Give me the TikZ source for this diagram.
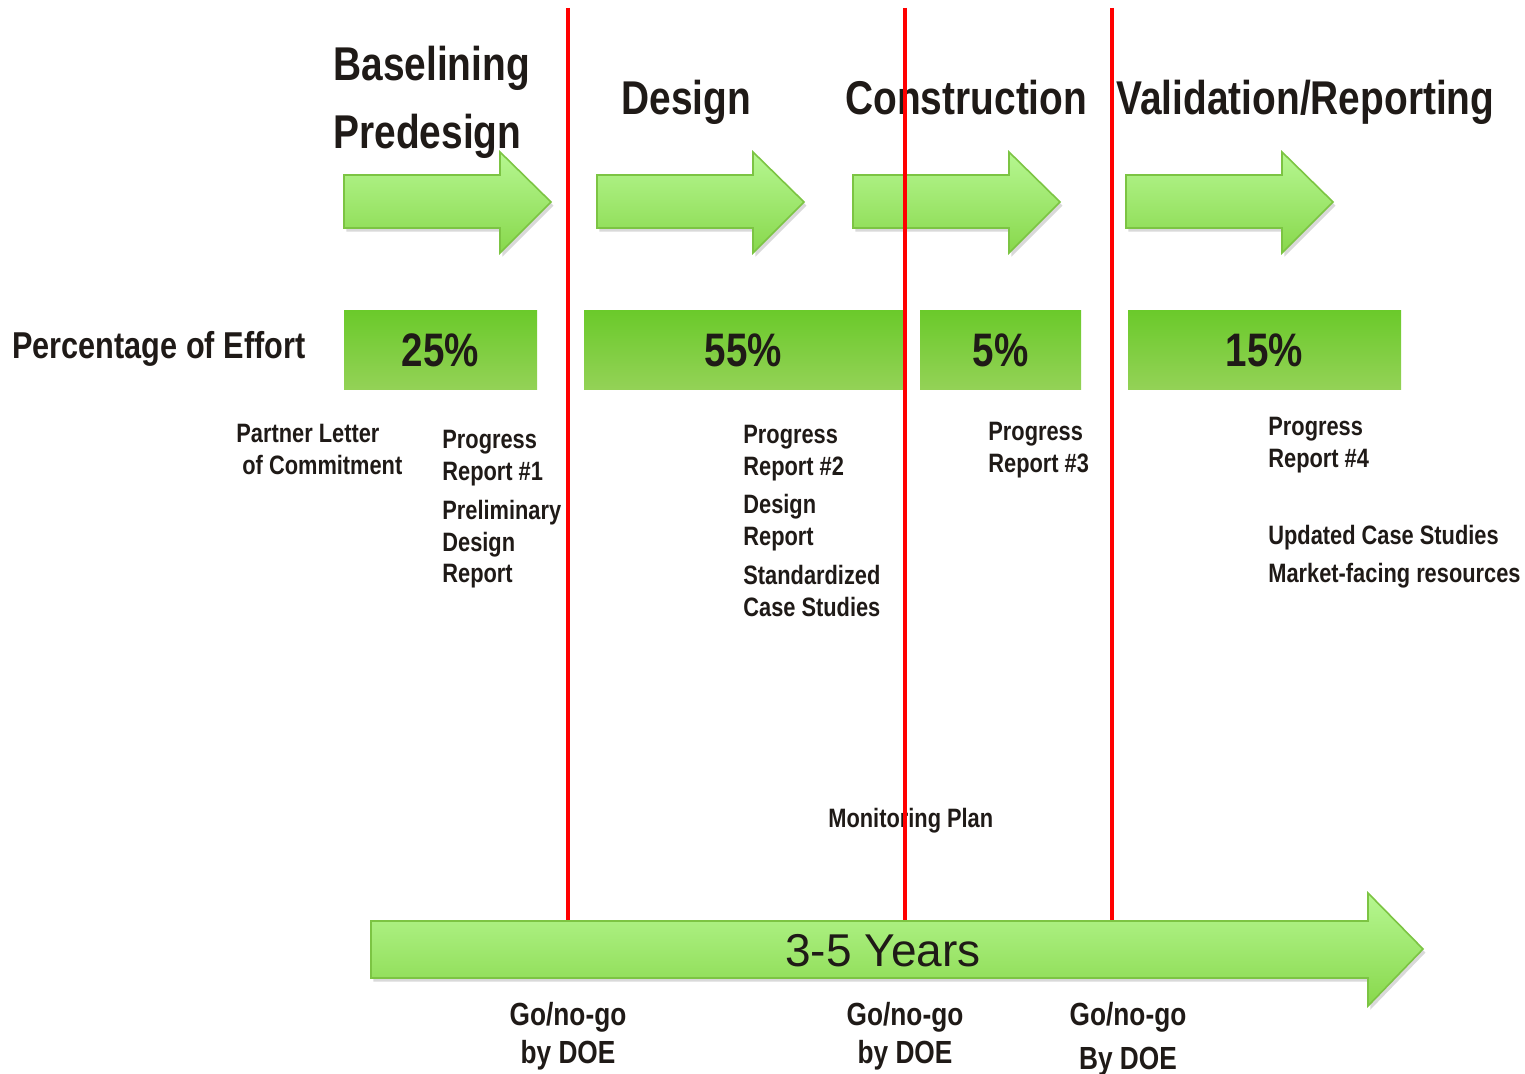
\documentclass[tikz,border=0pt]{standalone}
\usepackage{fontspec}
\setmainfont{Liberation Sans}
\newfontfamily\narrowfont{Liberation Sans}[FakeStretch=0.82]
\usetikzlibrary{shadows}

\definecolor{ink}{HTML}{1F1A17}
\definecolor{arrowtop}{HTML}{B6F791}
\definecolor{arrowbot}{HTML}{88D84C}
\definecolor{arrowrim}{HTML}{7CC443}
\definecolor{pcttop}{HTML}{6BCA2B}
\definecolor{pctbot}{HTML}{94D257}

\begin{document}
\begin{tikzpicture}[x=0.5pt,y=-0.5pt,
  every node/.style={inner sep=0pt,text=ink},
  greenarrow/.style={top color=arrowtop,bottom color=arrowbot,draw=arrowrim,line width=0.8pt,
    drop shadow={opacity=0.3,shadow xshift=1.2pt,shadow yshift=-1.8pt}},
  pctbox/.style={top color=pcttop,bottom color=pctbot,minimum height=39.5pt,
    font=\narrowfont\bfseries\fontsize{23.5}{28}\selectfont},
  phase/.style={anchor=north west,align=left,
    font=\narrowfont\bfseries\fontsize{23.7}{34}\selectfont},
  deliv/.style={anchor=north west,align=left,
    font=\narrowfont\bfseries\fontsize{13.3}{15.75}\selectfont},
  gate/.style={align=center,font=\narrowfont\bfseries\fontsize{16}{19}\selectfont},
  gateline/.style={red,line width=2pt}]
  \useasboundingbox (0,0) rectangle (1525,1074);

  % phase arrows
  \foreach \x in {344,597,853,1126}
    \path[greenarrow] (\x,175) -- ++(156,0) -- ++(0,-23) -- ++(51,50)
      -- ++(-51,51) -- ++(0,-25) -- ++(-156,0) -- cycle;

  \node[phase] (base) at (333,46) {Baselining\\Predesign};
  \node[phase] (des) at (621,80) {Design};
  \node[phase] (cons) at (845,80) {Construction};
  \node[phase] (val) at (1116,80) {Validation/Reporting};

  % effort bars
  \node[anchor=north west,font=\narrowfont\bfseries\fontsize{18.7}{22}\selectfont]
    (effort) at (12,331) {Percentage of Effort};
  \node[pctbox,minimum width=96.5pt] (p25) at (440.5,350.5) {25\%};
  \node[pctbox,minimum width=159.5pt] (p55) at (743.5,350.5) {55\%};
  \node[pctbox,minimum width=80.5pt] (p5) at (1000.5,350.5) {5\%};
  \node[pctbox,minimum width=136.5pt] (p15) at (1264.5,350.5) {15\%};

  % deliverables
  \node[deliv] (letter) at (236,424) {Partner Letter\\\hspace{3pt}of Commitment};
  \node[deliv] (pr1) at (442,430) {Progress\\Report \#1};
  \node[deliv] (pdr) at (442,500) {Preliminary\\Design\\Report};
  \node[deliv] (pr2) at (743,425) {Progress\\Report \#2};
  \node[deliv] (dr) at (743,494) {Design\\Report};
  \node[deliv] (scs) at (743,565) {Standardized\\Case Studies};
  \node[deliv] (pr3) at (988,422) {Progress\\Report \#3};
  \node[deliv] (pr4) at (1268,417) {Progress\\Report \#4};
  \node[deliv] (ucs) at (1268,525) {Updated Case Studies};
  \node[deliv] (mkt) at (1268,563) {Market-facing resources};
  \node[deliv] (mon) at (828,808) {Monitoring Plan};

  % go/no-go lines
  \foreach \x in {568,905,1112}
    \draw[gateline] (\x,8) -- (\x,921);

  % timeline
  \path[greenarrow] (371,921) -- (1368,921) -- (1368,893) -- (1423,949)
    -- (1368,1006) -- (1368,978) -- (371,978) -- cycle;
  \node[font=\fontsize{23}{28}\selectfont] (years) at (883,951) {3-5 Years};

  \node[gate] (g1) at (568,1036) {Go/no-go\\by DOE};
  \node[gate] (g2) at (905,1036) {Go/no-go\\by DOE};
  \node[gate] (g3) at (1128,1039) {Go/no-go\\[3pt]By DOE};
\end{tikzpicture}
\end{document}
